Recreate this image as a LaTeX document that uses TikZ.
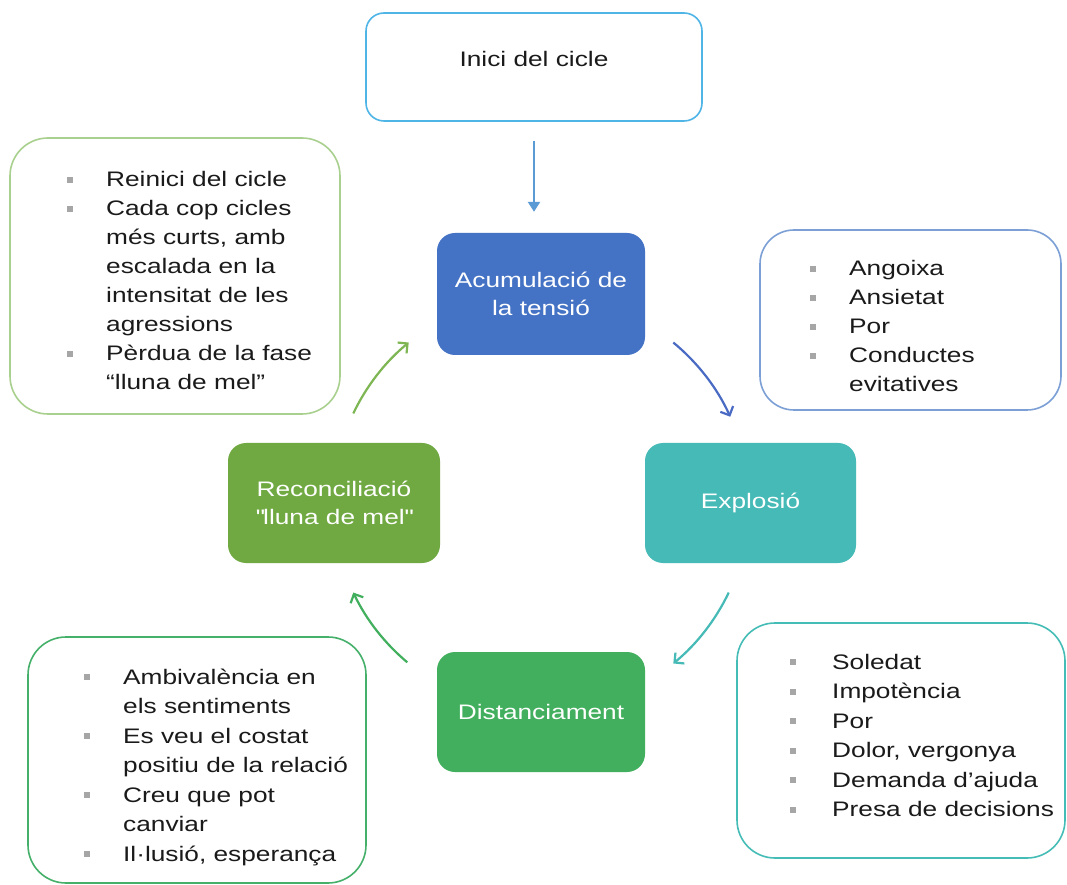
\documentclass[tikz,border=0pt]{standalone}
\usepackage{fontspec}
\setmainfont{Liberation Sans}[FakeStretch=1.25]
\usetikzlibrary{arrows.meta}
\definecolor{acumc}{HTML}{4472C4}
\definecolor{explc}{HTML}{45BAB6}
\definecolor{distc}{HTML}{42AF5E}
\definecolor{recoc}{HTML}{70A941}
\definecolor{inicib}{HTML}{4FB4E6}
\definecolor{iniarr}{HTML}{5B9BD5}
\definecolor{tlb}{HTML}{A9D08E}
\definecolor{r1b}{HTML}{7CA0D6}
\definecolor{brb}{HTML}{45BDB6}
\definecolor{blb}{HTML}{45B06A}
\definecolor{arrA}{HTML}{4A6BC4}
\definecolor{arrR}{HTML}{7DB652}
\definecolor{bulgray}{HTML}{A6A6A6}
\definecolor{txt}{HTML}{1A1A1A}
\newcommand{\bul}{\textcolor{bulgray}{\raisebox{4pt}{\rule{6pt}{6pt}}}}
\begin{document}
\begin{tikzpicture}[x=1pt,y=1pt,
  phase/.style={rounded corners=18pt, text=white, align=center,
    font=\fontsize{21}{28}\selectfont, inner sep=0pt},
  info/.style={draw, line width=1.6pt, rounded corners=38pt, fill=white, inner sep=0pt},
  items/.style={anchor=base west, inner sep=0pt, text=txt,
    font=\fontsize{21}{29.5}\selectfont},
  cycarrow/.style={line width=2.2pt, -{Straight Barb[length=7pt,width=14pt]}},
]
\useasboundingbox (0,0) rectangle (1067,884);
\fill[white] (0,0) rectangle (1067,884);

% start box
\node[draw=inicib, line width=1.6pt, rounded corners=18pt, minimum width=336pt,
  minimum height=108pt, inner sep=0pt, text height=15pt, text depth=15pt, text=txt,
  font=\fontsize{21}{28}\selectfont] (inici) at (534,817) {Inici del cicle};

% phase boxes
\node[phase, fill=acumc, minimum width=208pt, minimum height=122pt] (acum) at (541,590)
  {Acumulació de\\la tensió};
\node[phase, fill=explc, minimum width=211pt, minimum height=120pt] (expl) at (750.5,381)
  {Explosió};
\node[phase, fill=distc, minimum width=208pt, minimum height=120pt] (dist) at (541,172)
  {Distanciament};
\node[phase, fill=recoc, minimum width=212pt, minimum height=120pt] (reco) at (334,381)
  {Reconciliació\\\textquotedbl lluna de mel\textquotedbl};

% info boxes
\node[info, draw=tlb, minimum width=330pt, minimum height=276pt] (tl) at (175,608) {};
\node[info, draw=r1b, rounded corners=34pt, minimum width=301pt, minimum height=180pt] (r1) at (910.5,564) {};
\node[info, draw=brb, minimum width=328pt, minimum height=235pt] (br) at (901,143.5) {};
\node[info, draw=blb, minimum width=338pt, minimum height=246pt] (bl) at (197,124) {};

\node[items, font=\fontsize{21}{29}\selectfont] (tlt) at (67,697) {\begin{tabular}[t]{@{}p{39pt}@{}l@{}}
\bul & Reinici del cicle\\
\bul & Cada cop cicles\\
 & més curts, amb\\
 & escalada en la\\
 & intensitat de les\\
 & agressions\\
\bul & Pèrdua de la fase\\
 & “lluna de mel”
\end{tabular}};

\node[items, font=\fontsize{21}{29}\selectfont] (r1t) at (810,608) {\begin{tabular}[t]{@{}p{39pt}@{}l@{}}
\bul & Angoixa\\
\bul & Ansietat\\
\bul & Por\\
\bul & Conductes\\
 & evitatives
\end{tabular}};

\node[items] (brt) at (790,215) {\begin{tabular}[t]{@{}p{42pt}@{}l@{}}
\bul & Soledat\\
\bul & Impotència\\
\bul & Por\\
\bul & Dolor, vergonya\\
\bul & Demanda d’ajuda\\
\bul & Presa de decisions
\end{tabular}};

\node[items] (blt) at (84,200) {\begin{tabular}[t]{@{}p{39pt}@{}l@{}}
\bul & Ambivalència en\\
 & els sentiments\\
\bul & Es veu el costat\\
 & positiu de la relació\\
\bul & Creu que pot\\
 & canviar\\
\bul & Il·lusió, esperança
\end{tabular}};

% arrows
\coordinate (arrtop) at ([yshift=-19pt]inici.south);
\coordinate (arrbot) at ([yshift=21pt]inici.south |- acum.north);
\draw[iniarr, line width=2.4pt, -{Triangle[length=10pt,width=12pt]}]
  (arrtop) -- (arrbot);

\coordinate (cyc) at (541,381);
\draw[cycarrow, arrA] (cyc) ++(50.5:208) arc[start angle=50.5, end angle=24.5, radius=208];
\draw[cycarrow, explc] (cyc) ++(-25.5:208) arc[start angle=-25.5, end angle=-50.5, radius=208];
\draw[cycarrow, distc] (cyc) ++(230:208) arc[start angle=230, end angle=205.5, radius=208];
\draw[cycarrow, arrR] (cyc) ++(154.5:208) arc[start angle=154.5, end angle=129.5, radius=208];
\end{tikzpicture}
\end{document}
